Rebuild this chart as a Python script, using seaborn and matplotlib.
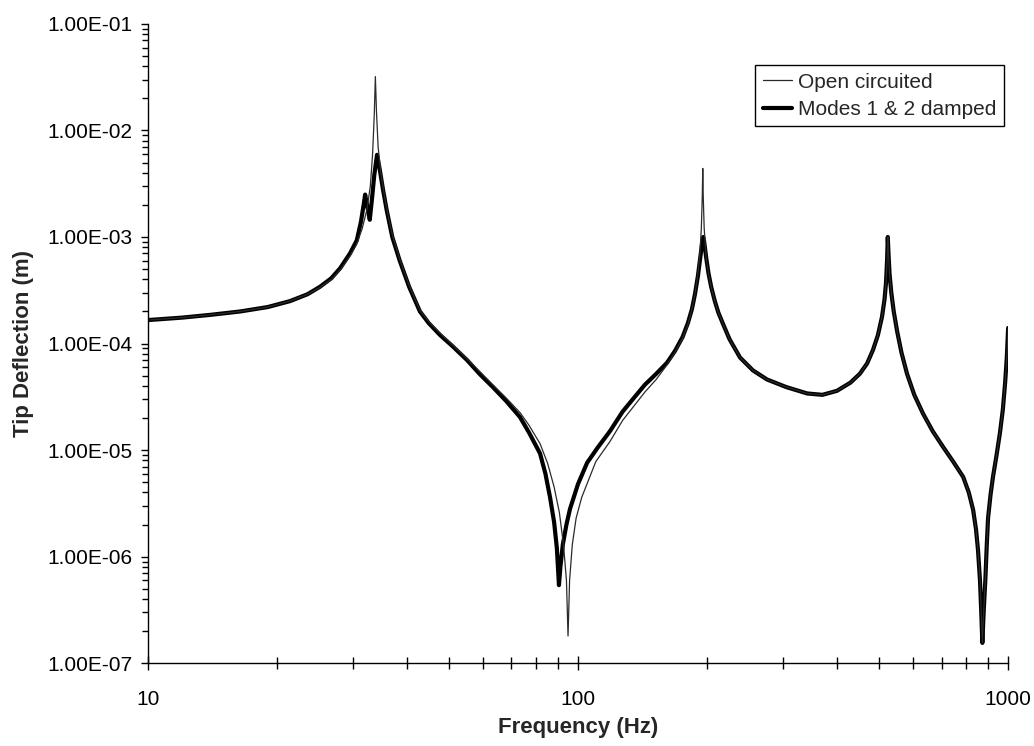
import matplotlib
matplotlib.use("Agg")
import matplotlib.pyplot as plt
import matplotlib.ticker as mticker
import numpy as np
import pandas as pd
import seaborn as sns

# ---- data ----
freq_damped = [10, 12, 14, 16.4, 19, 21.4, 23.5, 25.1, 26.7, 28.0, 29.5, 30.6, 31.3, 31.8,
               32.0, 32.4, 32.8, 33.2, 33.6, 34.1, 34.6, 35.2, 35.9, 37, 38.5, 40.5,
               42.9, 45, 47.8, 51, 55.2, 59, 63.4, 68, 73.3, 77, 81.6, 84, 86.1, 88,
               89.3, 90.3, 91, 92.2, 94, 95.8, 100, 105, 111, 118.6, 127, 135, 143,
               152, 161, 168, 175, 180, 184, 187, 190, 192.5, 194.5, 195.5, 196.5,
               198.5, 201, 204, 208, 212, 217, 225, 238, 255, 275, 305, 341, 370, 400,
               430, 452, 470, 485, 498, 509, 516, 520, 523, 525, 527, 530, 535, 542,
               552, 565, 582, 605, 634, 668, 706, 745, 786, 810, 829, 842, 851, 860,
               866, 871, 877, 885, 892, 898, 910, 922, 940, 957, 972, 984, 993, 1000]
defl_damped = [1.66e-4, 1.75e-4, 1.86e-4, 2.0e-4, 2.2e-4, 2.5e-4, 2.9e-4, 3.4e-4, 4.1e-4,
               5.1e-4, 7.0e-4, 9.3e-4, 1.4e-3, 2.1e-3, 2.5e-3, 1.9e-3, 1.45e-3, 2.3e-3,
               3.8e-3, 5.9e-3, 4.3e-3, 2.8e-3, 1.8e-3, 1.0e-3, 6.0e-4, 3.4e-4, 2.0e-4,
               1.55e-4, 1.2e-4, 9.5e-5, 7.0e-5, 5.2e-5, 3.9e-5, 2.9e-5, 2.04e-5,
               1.45e-5, 9.3e-6, 6.0e-6, 3.6e-6, 2.1e-6, 1.2e-6, 5.4e-7, 8.0e-7, 1.3e-6,
               2.0e-6, 2.8e-6, 4.8e-6, 7.6e-6, 1.05e-5, 1.5e-5, 2.3e-5, 3.1e-5, 4.1e-5,
               5.2e-5, 6.6e-5, 8.5e-5, 1.15e-4, 1.55e-4, 2.1e-4, 2.9e-4, 4.3e-4,
               6.5e-4, 9.0e-4, 1.0e-3, 9.0e-4, 6.5e-4, 4.6e-4, 3.4e-4, 2.5e-4,
               1.95e-4, 1.55e-4, 1.1e-4, 7.4e-5, 5.6e-5, 4.6e-5, 3.9e-5, 3.4e-5,
               3.3e-5, 3.6e-5, 4.3e-5, 5.2e-5, 6.5e-5, 8.7e-5, 1.2e-4, 1.78e-4,
               2.6e-4, 3.7e-4, 6.0e-4, 1.0e-3, 7.0e-4, 4.5e-4, 3.0e-4, 2.0e-4,
               1.3e-4, 8.2e-5, 5.2e-5, 3.3e-5, 2.2e-5, 1.5e-5, 1.07e-5, 7.8e-6,
               5.6e-6, 4.0e-6, 2.75e-6, 1.8e-6, 1.15e-6, 6.0e-7, 3.0e-7, 1.55e-7,
               3.0e-7, 6.0e-7, 1.3e-6, 2.3e-6, 3.8e-6, 5.6e-6, 9.0e-6, 1.45e-5,
               2.4e-5, 4.3e-5, 7.5e-5, 1.4e-4]

freq_open = [10, 12, 14, 16.4, 19, 21.4, 23.5, 25.1, 26.7, 28.0, 29.5, 30.6, 31.5, 32.3,
             32.9, 33.3, 33.6, 33.8, 34.0, 34.3, 34.8, 35.5, 36.3, 37, 38.5, 40.5,
             42.9, 45, 47.8, 51, 55.2, 59, 63.4, 68, 73.3, 77, 81.6, 85, 88, 90.5,
             92.5, 94, 94.8, 95.6, 97, 99, 102, 110, 118.6, 127, 135, 143, 152, 161,
             168, 175, 180, 184, 187, 190, 192, 193.5, 194.5, 195, 195.5, 196.5,
             198.5, 201, 204, 208, 212, 217, 225, 238, 255, 275, 305, 341, 370, 400,
             430, 452, 470, 485, 498, 509, 516, 520, 523, 525, 527, 530, 535, 542,
             552, 565, 582, 605, 634, 668, 706, 745, 786, 810, 829, 842, 851, 860,
             866, 871, 877, 885, 892, 898, 910, 922, 940, 957, 972, 984, 993, 1000]
defl_open = [1.66e-4, 1.75e-4, 1.86e-4, 2.0e-4, 2.2e-4, 2.5e-4, 2.9e-4, 3.35e-4, 4.0e-4,
             4.9e-4, 6.6e-4, 8.6e-4, 1.2e-3, 1.8e-3, 3.0e-3, 6.0e-3, 1.4e-2, 3.2e-2,
             1.5e-2, 7.0e-3, 4.0e-3, 2.4e-3, 1.5e-3, 1.05e-3, 6.2e-4, 3.5e-4, 2.05e-4,
             1.6e-4, 1.25e-4, 9.8e-5, 7.2e-5, 5.5e-5, 4.1e-5, 3.1e-5, 2.25e-5,
             1.7e-5, 1.15e-5, 7.5e-6, 4.5e-6, 2.6e-6, 1.3e-6, 6.0e-7, 1.8e-7, 6.0e-7,
             1.3e-6, 2.3e-6, 3.6e-6, 7.8e-6, 1.2e-5, 1.9e-5, 2.6e-5, 3.5e-5, 4.6e-5,
             6.3e-5, 8.3e-5, 1.12e-4, 1.5e-4, 2.1e-4, 2.9e-4, 4.5e-4, 7.0e-4, 1.2e-3,
             2.4e-3, 4.4e-3, 2.4e-3, 1.2e-3, 6.5e-4, 4.6e-4, 3.4e-4, 2.5e-4, 1.95e-4,
             1.55e-4, 1.1e-4, 7.4e-5, 5.6e-5, 4.6e-5, 3.9e-5, 3.4e-5, 3.3e-5, 3.6e-5,
             4.3e-5, 5.2e-5, 6.5e-5, 8.7e-5, 1.2e-4, 1.78e-4, 2.6e-4, 3.7e-4, 6.0e-4,
             1.0e-3, 7.0e-4, 4.5e-4, 3.0e-4, 2.0e-4, 1.3e-4, 8.2e-5, 5.2e-5, 3.3e-5,
             2.2e-5, 1.5e-5, 1.07e-5, 7.8e-6, 5.6e-6, 4.0e-6, 2.75e-6, 1.8e-6,
             1.15e-6, 6.0e-7, 3.0e-7, 1.55e-7, 3.0e-7, 6.0e-7, 1.3e-6, 2.3e-6,
             3.8e-6, 5.6e-6, 9.0e-6, 1.45e-5, 2.4e-5, 4.3e-5, 7.5e-5, 1.4e-4]

series_names = ["Open circuited", "Modes 1 & 2 damped"]
x_label = "Frequency (Hz)"
y_label = "Tip Deflection (m)"

df_open = pd.DataFrame({"f": freq_open, "d": defl_open})
df_damp = pd.DataFrame({"f": freq_damped, "d": defl_damped})

sns.set_style("ticks")
plt.rcParams["font.family"] = ["Liberation Sans", "DejaVu Sans"]

fig = plt.figure(figsize=(10.34, 7.46), dpi=100)
ax = fig.add_axes([0.143, 0.111, 0.832, 0.857])

sns.lineplot(data=df_damp, x="f", y="d", ax=ax, color="black", linewidth=3.0,
             estimator=None, sort=False, label=series_names[1])
sns.lineplot(data=df_open, x="f", y="d", ax=ax, color="#2a2a2a", linewidth=0.9,
             estimator=None, sort=False, label=series_names[0])

ax.set_xscale("log")
ax.set_yscale("log")
ax.set_xlim(10, 1000)
ax.set_ylim(1e-7, 1e-1)

ax.xaxis.set_major_locator(mticker.LogLocator(base=10, numticks=10))
ax.xaxis.set_minor_locator(mticker.LogLocator(base=10, subs=np.arange(2, 10), numticks=20))
ax.yaxis.set_major_locator(mticker.LogLocator(base=10, numticks=10))
ax.yaxis.set_minor_locator(mticker.LogLocator(base=10, subs=np.arange(2, 10), numticks=20))
ax.xaxis.set_major_formatter(mticker.FuncFormatter(lambda v, p: f"{v:g}"))
ax.xaxis.set_minor_formatter(mticker.NullFormatter())
ax.yaxis.set_major_formatter(mticker.FuncFormatter(lambda v, p: f"{v:.2E}"))
ax.yaxis.set_minor_formatter(mticker.NullFormatter())

for s in ["top", "right"]:
    ax.spines[s].set_visible(False)
for s in ["left", "bottom"]:
    ax.spines[s].set_color("black")
    ax.spines[s].set_linewidth(1.0)

ax.tick_params(axis="x", which="major", direction="inout", length=10, width=1,
               labelsize=15, pad=14, colors="black")
ax.tick_params(axis="x", which="minor", direction="inout", length=8, width=1, colors="black")
ax.tick_params(axis="y", which="major", direction="out", length=5, width=1,
               labelsize=15, pad=6, colors="black")
ax.tick_params(axis="y", which="minor", direction="out", length=4, width=1, colors="black")

ax.set_xlabel(x_label, fontsize=16, fontweight="bold", labelpad=6)
ax.set_ylabel(y_label, fontsize=16, fontweight="bold", labelpad=10)

handles, labels = ax.get_legend_handles_labels()
order = [labels.index(n) for n in series_names]
leg = ax.legend([handles[i] for i in order], [labels[i] for i in order],
                loc="upper right", bbox_to_anchor=(0.995, 0.935), fontsize=15,
                frameon=True, fancybox=False, edgecolor="black", framealpha=1,
                handlelength=1.4, handletextpad=0.3, borderpad=0.35, labelspacing=0.4,
                borderaxespad=0)
leg.get_frame().set_linewidth(1.0)

fig.savefig("out.png", dpi=100)
